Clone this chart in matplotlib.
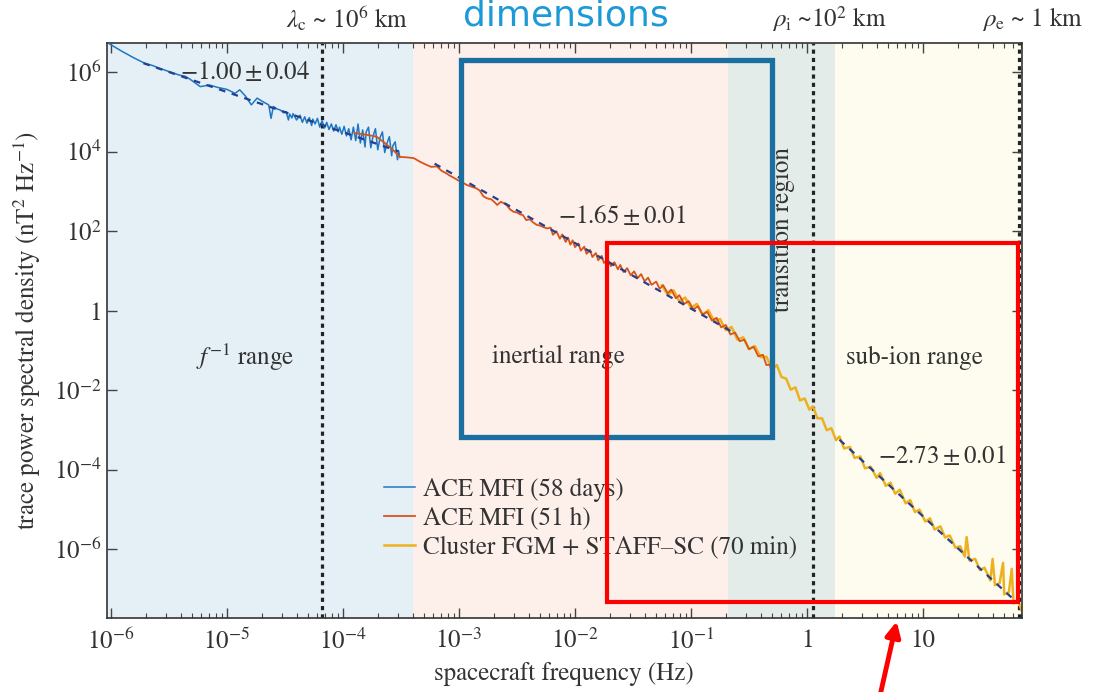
import numpy as np
import matplotlib
matplotlib.use('Agg')
import matplotlib.pyplot as plt
from matplotlib.ticker import FixedLocator, LogLocator, FuncFormatter, NullLocator
from matplotlib.patches import Rectangle, FancyArrowPatch

plt.rc('font', family='STIXGeneral', size=18)
plt.rc('mathtext', fontset='stix')

# ---- data (log10 of frequency in Hz, log10 of PSD in nT^2/Hz) ----
blue_logf = [-6.01, -5.90, -5.80, -5.71, -5.64, -5.58, -5.50, -5.41, -5.36, -5.32,
             -5.23, -5.15, -5.08, -5.00, -4.93, -4.89, -4.84, -4.79, -4.74, -4.69,
             -4.64, -4.62, -4.60, -4.57, -4.54, -4.51, -4.49, -4.47, -4.46, -4.44,
             -4.43, -4.40, -4.37, -4.35, -4.33, -4.31, -4.29, -4.27, -4.26, -4.24,
             -4.22, -4.20, -4.18, -4.16, -4.14, -4.12, -4.10, -4.08, -4.06, -4.04,
             -4.03, -4.01, -3.99, -3.97, -3.95, -3.93, -3.91, -3.89, -3.87, -3.85,
             -3.83, -3.81, -3.80, -3.78, -3.76, -3.74, -3.72, -3.70, -3.68, -3.66,
             -3.64, -3.62, -3.60, -3.58, -3.57, -3.55, -3.53, -3.52, -3.51]
blue_logp = [6.71, 6.52, 6.36, 6.23, 6.17, 6.10, 6.02, 5.93, 5.90, 5.83,
             5.64, 5.68, 5.62, 5.57, 5.47, 5.56, 5.40, 5.18, 5.35, 5.26,
             5.18, 4.84, 5.14, 5.08, 5.05, 4.98, 5.01, 4.80, 4.95, 4.85,
             4.96, 4.80, 4.92, 4.74, 4.88, 4.72, 4.86, 4.66, 4.82, 4.70,
             4.84, 4.62, 4.78, 4.60, 4.74, 4.56, 4.70, 4.52, 4.68, 4.50,
             4.62, 4.44, 4.64, 4.40, 4.58, 4.30, 4.62, 4.28, 4.70, 4.22,
             4.55, 4.12, 4.50, 4.62, 4.10, 4.40, 4.58, 4.05, 4.36, 4.50,
             3.98, 4.22, 4.38, 3.90, 4.15, 4.25, 3.80, 4.02, 3.86]

orange_logf = [-3.90, -3.80, -3.71, -3.64, -3.57, -3.51, -3.45, -3.39, -3.33, -3.28,
               -3.24, -3.19, -3.15, -3.11, -3.08, -3.06, -3.03, -2.99, -2.96, -2.93,
               -2.89, -2.85, -2.82, -2.79, -2.76, -2.72, -2.69, -2.67, -2.64, -2.61,
               -2.59, -2.56, -2.53, -2.50, -2.47, -2.45, -2.42, -2.39, -2.36, -2.33,
               -2.30, -2.27, -2.24, -2.21, -2.19, -2.16, -2.13, -2.11, -2.08, -2.06,
               -2.04, -2.02, -2.00, -1.97, -1.95, -1.92, -1.90, -1.87, -1.85, -1.82,
               -1.80, -1.77, -1.75, -1.72, -1.69, -1.66, -1.63, -1.61, -1.58, -1.55,
               -1.52, -1.49, -1.46, -1.43, -1.40, -1.37, -1.34, -1.30, -1.27, -1.24,
               -1.20, -1.17, -1.13, -1.10, -1.06, -1.02, -0.98, -0.94, -0.90, -0.86,
               -0.82, -0.78, -0.74, -0.70, -0.66, -0.62, -0.58, -0.54, -0.50, -0.46,
               -0.42, -0.38, -0.35, -0.32, -0.31]
orange_logp = [4.47, 4.43, 4.38, 4.22, 4.05, 3.87, 3.86, 3.84, 3.74, 3.67,
               3.62, 3.63, 3.52, 3.46, 3.40, 3.37, 3.32, 3.25, 3.21, 3.16,
               3.12, 3.08, 3.02, 2.88, 2.83, 2.80, 2.72, 2.66, 2.74, 2.70,
               2.66, 2.55, 2.49, 2.47, 2.42, 2.41, 2.28, 2.30, 2.22, 2.16,
               2.14, 2.10, 2.07, 2.09, 1.91, 2.00, 1.81, 1.92, 1.73, 1.84,
               1.66, 1.77, 1.60, 1.69, 1.51, 1.61, 1.43, 1.53, 1.35, 1.45,
               1.27, 1.38, 1.20, 1.30, 1.12, 1.22, 1.04, 1.15, 0.97, 1.07,
               0.89, 0.99, 0.82, 0.92, 0.74, 0.83, 0.65, 0.73, 0.55, 0.64,
               0.44, 0.53, 0.31, 0.39, 0.17, 0.24, 0.03, 0.11, -0.10, -0.03,
               -0.25, -0.18, -0.42, -0.36, -0.60, -0.55, -0.77, -0.73, -0.97, -0.91,
               -1.15, -1.11, -1.37, -1.36, -1.50]

yellow_logf = [-1.25, -1.20, -1.15, -1.10, -1.05, -1.00, -0.95, -0.90, -0.85, -0.80,
               -0.75, -0.70, -0.65, -0.60, -0.55, -0.50, -0.45, -0.40, -0.35, -0.30,
               -0.26, -0.22, -0.18, -0.14, -0.10, -0.06, -0.02, 0.02, 0.05, 0.09,
               0.13, 0.17, 0.21, 0.25, 0.28, 0.32, 0.37, 0.41, 0.46, 0.50,
               0.55, 0.60, 0.63, 0.68, 0.72, 0.76, 0.80, 0.85, 0.89, 0.93,
               0.97, 1.02, 1.06, 1.10, 1.15, 1.19, 1.23, 1.28, 1.32, 1.36,
               1.376, 1.40, 1.45, 1.49, 1.53, 1.58, 1.60, 1.62, 1.66, 1.69,
               1.70, 1.74, 1.765, 1.78, 1.82, 1.85]
yellow_logp = [0.64, 0.39, 0.51, 0.23, 0.33, 0.07, 0.17, -0.10, 0.01, -0.27,
               -0.21, -0.49, -0.41, -0.73, -0.67, -0.97, -0.89, -1.17, -1.16, -1.47,
               -1.37, -1.67, -1.71, -1.99, -1.93, -2.26, -2.21, -2.49, -2.41, -2.71,
               -2.71, -3.01, -2.96, -3.26, -3.17, -3.47, -3.43, -3.71, -3.67, -3.97,
               -3.93, -4.21, -4.09, -4.41, -4.33, -4.61, -4.51, -4.85, -4.77, -5.07,
               -5.01, -5.31, -5.23, -5.51, -5.43, -5.71, -5.66, -5.97, -5.93, -6.19,
               -5.70, -6.29, -6.25, -6.53, -6.47, -6.79, -6.25, -6.91, -6.86, -6.35,
               -7.14, -7.09, -6.50, -7.37, -7.30, -7.55]

# power-law fits: end points (log10 f, log10 P)
fit1_logf, fit1_logp = [-5.72, -3.52], [6.23, 4.01]
fit2_logf, fit2_logp = [-3.21, -0.66], [3.70, -0.51]
fit3_logf, fit3_logp = [0.28, 1.80], [-3.25, -7.32]

# shaded ranges and characteristic scales (Hz)
band_edges = [1e-7, 4.0e-4, 0.208, 1.74, 1e3]
band_colors = ['#E5EFF6', '#FDEFEA', '#E3ECE9', '#FEFCEE']
scale_freqs = [6.6e-5, 1.13, 67.0]
scale_labels = [r'$\lambda_{\rm c}$ ~ 10$^6$ km', r'$\rho_{\rm i}$ ~10$^2$ km', r'$\rho_{\rm e}$ ~ 1 km']
scale_shift = [25, 16, 14]

fig = plt.figure(figsize=(10.95, 6.92), dpi=100)
ax = fig.add_axes([0.0974, 0.1065, 0.8359, 0.8309])
ax.set_xscale('log')
ax.set_yscale('log')
ax.set_xlim(10**-6.037, 10**1.853)
ax.set_ylim(10**-7.745, 10**6.73)

for i, c in enumerate(band_colors):
    ax.axvspan(band_edges[i], band_edges[i + 1], color=c, lw=0, zorder=0)

for fq in scale_freqs:
    ax.axvline(fq, color='#222222', lw=2.3, ls=(0, (1.3, 1.3)), zorder=1)

f = lambda a: 10 ** np.array(a)
ax.plot(f(blue_logf), f(blue_logp), color='#1F77C4', lw=1.1, zorder=3, label='ACE MFI (58 days)')
ax.plot(f(orange_logf), f(orange_logp), color='#D95319', lw=1.3, zorder=4, label='ACE MFI (51 h)')
ax.plot(f(yellow_logf), f(yellow_logp), color='#EDB120', lw=1.8, zorder=2,
        label='Cluster FGM + STAFF\u2013SC (70 min)')

for lf, lp in [(fit1_logf, fit1_logp), (fit2_logf, fit2_logp), (fit3_logf, fit3_logp)]:
    ax.plot(f(lf), f(lp), color='#23408E', lw=1.6, ls=(0, (3, 3)), zorder=5)

tc = '#333333'
ax.text(10**-4.845, 10**5.98, r'$-1.00 \pm 0.04$', ha='center', va='center', color=tc, zorder=6)
ax.text(10**-1.597, 10**2.37, r'$-1.65 \pm 0.01$', ha='center', va='center', color=tc, zorder=6)
ax.text(10**1.161, 10**-3.676, r'$-2.73 \pm 0.01$', ha='center', va='center', color=tc, zorder=6)
ax.text(10**-4.845, 10**-1.166, r'$f^{-1}$ range', ha='center', va='center', color=tc)
ax.text(10**-2.144, 10**-1.158, 'inertial range', ha='center', va='center', color=tc)
ax.text(10**0.922, 10**-1.2, 'sub-ion range', ha='center', va='center', color=tc)
ax.text(10**-0.211, 10**2.03, 'transition region', ha='center', va='center', color=tc, rotation=90)

for fq, lab, dx in zip(scale_freqs, scale_labels, scale_shift):
    ax.annotate(lab, (fq, 1), xycoords=('data', 'axes fraction'), xytext=(dx, 24),
                textcoords='offset pixels', ha='center', va='center', color=tc,
                annotation_clip=False)

# ticks
x_major = [1e-6, 1e-5, 1e-4, 1e-3, 1e-2, 1e-1, 1, 10]
y_major = [1e-6, 1e-4, 1e-2, 1, 1e2, 1e4, 1e6]

def fmt(v, pos):
    e = int(round(np.log10(v)))
    if e == 0:
        return '1'
    if e == 1:
        return '10'
    return r'$10^{%d}$' % e

ax.xaxis.set_major_locator(FixedLocator(x_major))
ax.xaxis.set_minor_locator(LogLocator(base=10, subs=np.arange(2, 10), numticks=30))
ax.xaxis.set_major_formatter(FuncFormatter(fmt))
ax.yaxis.set_major_locator(FixedLocator(y_major))
ax.yaxis.set_minor_locator(NullLocator())
ax.yaxis.set_major_formatter(FuncFormatter(fmt))
ax.tick_params(which='both', direction='in', top=True, right=True, color='#444444',
               labelcolor=tc, labelsize=18)
ax.tick_params(which='major', length=7, width=1)
ax.tick_params(which='minor', length=3.5, width=0.8)
ax.tick_params(axis='x', pad=8)
for s in ax.spines.values():
    s.set_color('#333333')
    s.set_linewidth(1.2)

ax.set_xlabel('spacecraft frequency (Hz)', color=tc, labelpad=5)
ax.set_ylabel(r'trace power spectral density (nT$^2$ Hz$^{-1}$)', color=tc, labelpad=8)

leg = ax.legend(loc='upper left', bbox_to_anchor=(0.292, 0.262), frameon=False,
                handlelength=1.25, handletextpad=0.3, labelspacing=0.2, borderaxespad=0,
                fontsize=18)
for t in leg.get_texts():
    t.set_color(tc)

# overlay annotations
ax.add_patch(Rectangle((10**-2.983, 10**-3.18), 10**-0.302 - 10**-2.983, 10**6.31 - 10**-3.18,
                       fill=False, ec='#1A6FA0', lw=3.8, zorder=8))
ax.add_patch(Rectangle((10**-1.724, 10**-7.334), 10**1.819 - 10**-1.724, 10**1.704 - 10**-7.334,
                       fill=False, ec='#FF0000', lw=3.0, zorder=8))
fig.text(0.517, 0.978, 'dimensions', family='DejaVu Sans', color='#1B9AD7', fontsize=26,
         ha='center', va='center')
fig.patches.append(FancyArrowPatch(
    (0.803, -0.01), (0.8195, 0.106), transform=fig.transFigure, arrowstyle='-|>',
    mutation_scale=22, color='#FF0000', lw=3.5))

fig.savefig('out.png', dpi=100)
